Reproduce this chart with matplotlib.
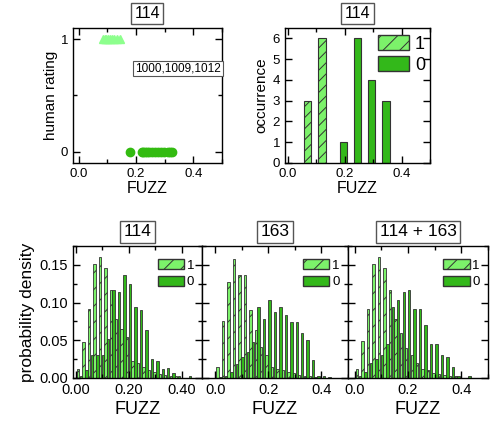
import matplotlib
matplotlib.use("Agg")
import matplotlib.pyplot as plt
from matplotlib.ticker import MultipleLocator, FormatStrFormatter
from matplotlib.patches import Patch

plt.rcParams['font.family'] = ['Liberation Sans', 'DejaVu Sans']
plt.rcParams['hatch.linewidth'] = 0.7

LIGHT = '#7cf26a'
DARK = '#33b81a'
EDGE = '#333333'

# top-left: single-frame ratings for sample 114
tri_fuzz = [0.084, 0.090, 0.096, 0.103, 0.110, 0.117, 0.124, 0.133, 0.143]
dot_fuzz = [0.179, 0.220, 0.226, 0.232, 0.240, 0.246, 0.254,
            0.266, 0.276, 0.286, 0.296, 0.310, 0.318, 0.325]
frame_note = "1000,1009,1012"

# top-right: counts for sample 114
cnt_fuzz_1 = [0.07, 0.12]
cnt_1 = [3, 6]
cnt_fuzz_0 = [0.195, 0.245, 0.295, 0.345]
cnt_0 = [1, 6, 4, 3]

# bottom: probability density per bin
fuzz_bins = [0.0145, 0.035, 0.0555, 0.076, 0.0965, 0.117, 0.1375, 0.158,
             0.1785, 0.199, 0.2195, 0.240, 0.2605, 0.281, 0.3015, 0.322,
             0.3425, 0.363, 0.3835, 0.404, 0.4245, 0.445]
ones_114 = [0.012, 0.048, 0.092, 0.151, 0.161, 0.146, 0.117, 0.078, 0.065, 0.054, 0.023,
            0.020, 0.015, 0.010, 0.008, 0.005, 0.004, 0.003, 0.002, 0.0, 0.0, 0.0]
zeros_114 = [0.002, 0.010, 0.030, 0.031, 0.030, 0.052, 0.117, 0.114, 0.137, 0.125, 0.094,
             0.090, 0.064, 0.025, 0.023, 0.012, 0.013, 0.006, 0.003, 0.0, 0.003, 0.0]
ones_163 = [0.015, 0.075, 0.127, 0.158, 0.136, 0.137, 0.090, 0.064, 0.041, 0.030, 0.014,
            0.012, 0.010, 0.008, 0.006, 0.004, 0.003, 0.002, 0.001, 0.0, 0.0, 0.0]
zeros_163 = [0.001, 0.003, 0.008, 0.018, 0.028, 0.035, 0.048, 0.094, 0.078, 0.104, 0.087,
             0.094, 0.084, 0.074, 0.074, 0.060, 0.051, 0.024, 0.003, 0.002, 0.001, 0.0]
ones_all = [0.012, 0.049, 0.092, 0.151, 0.161, 0.146, 0.116, 0.078, 0.060, 0.040, 0.030,
            0.020, 0.012, 0.010, 0.007, 0.005, 0.004, 0.003, 0.002, 0.0, 0.0, 0.0]
zeros_all = [0.002, 0.008, 0.020, 0.025, 0.030, 0.045, 0.094, 0.104, 0.114, 0.117, 0.092,
             0.092, 0.070, 0.045, 0.045, 0.030, 0.028, 0.014, 0.002, 0.0, 0.002, 0.0]

panels = [("114", ones_114, zeros_114, (-0.01, 0.475), "%.2f"),
          ("163", ones_163, zeros_163, (-0.05, 0.5), "%.1f"),
          ("114 + 163", ones_all, zeros_all, (-0.025, 0.5), "%.1f")]

title_box = dict(boxstyle='square,pad=0.2', fc='white', ec='#555555', lw=1.0)


def style_ticks(ax, size=9):
    ax.tick_params(which='both', direction='in', top=True, right=True, labelsize=size)
    ax.tick_params(which='major', length=5, width=1)
    ax.tick_params(which='minor', length=3, width=1)
    for s in ax.spines.values():
        s.set_linewidth(1.0)


def legend_handles():
    return [Patch(facecolor=LIGHT, edgecolor=EDGE, hatch='//', label='1'),
            Patch(facecolor=DARK, edgecolor=EDGE, label='0')]


fig = plt.figure(figsize=(4.9, 4.25), dpi=100)

# top-left scatter
ax = fig.add_axes([0.149, 0.6165, 0.304, 0.3176])
ax.plot(tri_fuzz, [1] * len(tri_fuzz), '^', color='#8dff8d', ms=6, mec='#8dff8d')
ax.plot(dot_fuzz, [0] * len(dot_fuzz), 'o', color='#33bb11', ms=6, mec='#33bb11')
ax.set_xlim(-0.02, 0.5)
ax.set_ylim(-0.1, 1.1)
ax.xaxis.set_major_locator(MultipleLocator(0.2))
ax.xaxis.set_minor_locator(MultipleLocator(0.1))
ax.xaxis.set_major_formatter(FormatStrFormatter("%.1f"))
ax.set_yticks([0, 1])
ax.yaxis.set_minor_locator(MultipleLocator(0.5))
style_ticks(ax, 9.5)
ax.set_xlabel("FUZZ", fontsize=11.5, labelpad=1)
ax.set_ylabel("human rating", fontsize=11, labelpad=2)
ax.text(0.197, 0.74, frame_note, fontsize=8.5, va='center', ha='left',
        bbox=dict(boxstyle='square,pad=0.15', fc='white', ec='#555555', lw=0.8))
ax.set_title("114", fontsize=11.5, pad=7, bbox=title_box)

# top-right histogram
ax = fig.add_axes([0.5816, 0.6165, 0.296, 0.3176])
ax.bar(cnt_fuzz_1, cnt_1, width=0.026, color=LIGHT, edgecolor=EDGE, hatch='///', lw=0.8)
ax.bar(cnt_fuzz_0, cnt_0, width=0.026, color=DARK, edgecolor=EDGE, lw=0.8)
ax.set_xlim(-0.01, 0.5)
ax.set_ylim(0, 6.5)
ax.xaxis.set_major_locator(MultipleLocator(0.2))
ax.xaxis.set_minor_locator(MultipleLocator(0.1))
ax.xaxis.set_major_formatter(FormatStrFormatter("%.1f"))
ax.yaxis.set_major_locator(MultipleLocator(1))
style_ticks(ax, 9.5)
ax.set_xlabel("FUZZ", fontsize=11.5, labelpad=1)
ax.set_ylabel("occurrence", fontsize=11, labelpad=3)
ax.legend(handles=legend_handles(), loc='upper right', frameon=False, fontsize=13,
          handlelength=1.75, handleheight=0.9, labelspacing=0.2, handletextpad=0.3,
          borderaxespad=0.0, borderpad=0.2, bbox_to_anchor=(0.99, 0.975))
ax.set_title("114", fontsize=11.5, pad=7, bbox=title_box)

# bottom row
lefts = [73, 202, 348]
rights = [202, 348, 488]
for i, (name, ones, zeros, xlim, fmt) in enumerate(panels):
    ax = fig.add_axes([lefts[i] / 490, 0.1106, (rights[i] - lefts[i]) / 490, 0.3106])
    ax.bar([b - 0.0055 for b in fuzz_bins], ones, width=0.009, color=LIGHT,
           edgecolor=EDGE, hatch='//', lw=0.6)
    ax.bar([b + 0.0055 for b in fuzz_bins], zeros, width=0.009, color=DARK,
           edgecolor=EDGE, lw=0.6)
    ax.set_xlim(*xlim)
    ax.set_ylim(0, 0.175)
    ax.xaxis.set_major_locator(MultipleLocator(0.2))
    ax.xaxis.set_minor_locator(MultipleLocator(0.1))
    ax.xaxis.set_major_formatter(FormatStrFormatter(fmt))
    ax.yaxis.set_major_locator(MultipleLocator(0.05))
    ax.yaxis.set_minor_locator(MultipleLocator(0.025))
    ax.yaxis.set_major_formatter(FormatStrFormatter("%.2f"))
    style_ticks(ax, 10.5)
    if i == 0:
        ax.set_ylabel("probability density", fontsize=12.5, labelpad=3)
    else:
        ax.tick_params(labelleft=False)
    ax.set_xlabel("FUZZ", fontsize=13, labelpad=3)
    ax.legend(handles=legend_handles(), loc='upper right', frameon=False, fontsize=9.5,
              handlelength=2.0, handleheight=0.8, labelspacing=0.3, handletextpad=0.2,
              borderaxespad=0.0, borderpad=0.2, bbox_to_anchor=(0.96, 0.92))
    ax.set_title(name, fontsize=12.5, pad=7, bbox=title_box)

fig.savefig("out.png", dpi=100)
